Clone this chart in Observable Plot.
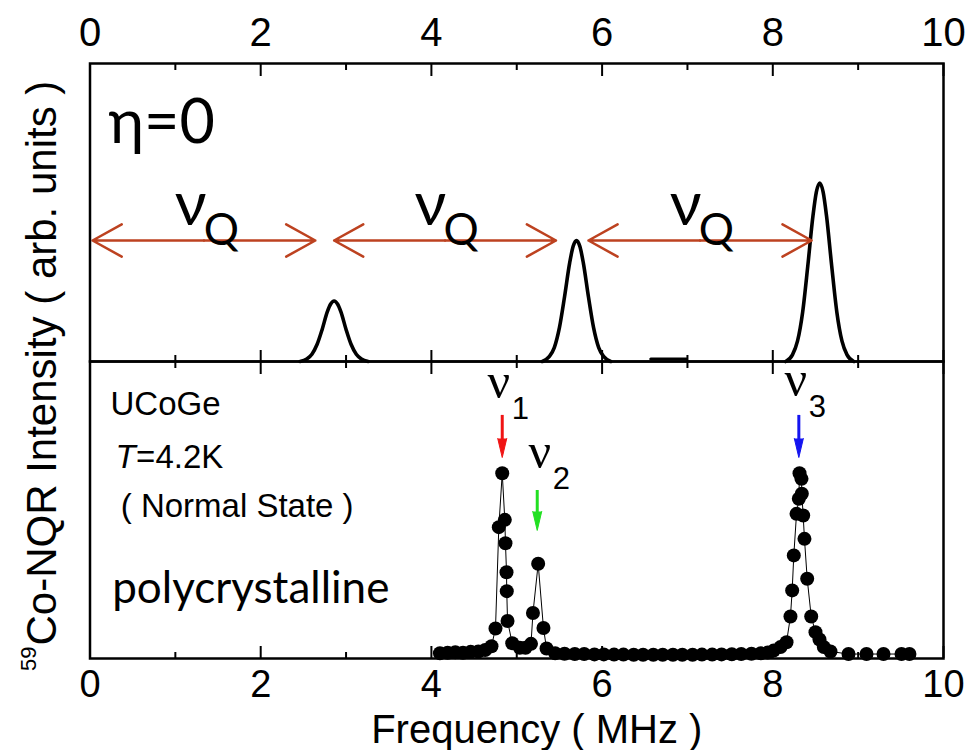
<!DOCTYPE html>
<html>
<head>
<meta charset="utf-8">
<script src="https://cdn.jsdelivr.net/npm/d3@7"></script>
<script src="https://cdn.jsdelivr.net/npm/@observablehq/plot@0.6"></script>
<style>
  body { margin: 0; background: #fff; }
  #wrap { position: relative; width: 967px; height: 750px; overflow: hidden; background: #fff; }
  #wrap svg { position: absolute; left: 0; top: 0; }
</style>
</head>
<body>
<div id="wrap"></div>
<script>
// ---------- axis ticks ----------
const majorTicks = [0, 2, 4, 6, 8, 10];
const minorTicks = [1, 3, 5, 7, 9];
const tickLabels = ["0", "2", "4", "6", "8", "10"];

// ---------- top panel: simulated spectrum (eta = 0) ----------
const peak1X = [2.46, 2.54, 2.60, 2.66, 2.72, 2.78, 2.82, 2.86, 2.90, 2.94, 3.00, 3.06, 3.12, 3.18, 3.26];
const peak1Y = [0, 0.04, 0.12, 0.28, 0.53, 0.82, 0.95, 1.00, 0.95, 0.82, 0.53, 0.28, 0.12, 0.04, 0];
const peak2X = [5.30, 5.38, 5.44, 5.50, 5.56, 5.62, 5.66, 5.70, 5.74, 5.78, 5.84, 5.90, 5.96, 6.02, 6.10];
const peak2Y = [0, 0.08, 0.23, 0.56, 1.07, 1.63, 1.90, 2.00, 1.90, 1.63, 1.07, 0.56, 0.23, 0.08, 0];
const peak3X = [8.15, 8.23, 8.29, 8.35, 8.41, 8.47, 8.51, 8.55, 8.59, 8.63, 8.69, 8.75, 8.81, 8.87, 8.95];
const peak3Y = [0, 0.11, 0.34, 0.82, 1.58, 2.40, 2.80, 2.95, 2.80, 2.40, 1.58, 0.82, 0.34, 0.11, 0];
const dashX = [6.57, 6.99];
const dashY = [0.04, 0.04];

// nu_Q double arrows (start, end) at height arrowLevel
const nuQStart = [0.03, 2.86, 5.84];
const nuQEnd = [2.64, 5.46, 8.455];
const arrowLevel = 2.0;
const nuQLabelX = [1.18, 3.99, 6.98];
const nuQLabelY = 2.25;
const etaText = "η=0";
const etaX = 0.217, etaY = 3.62;

// ---------- bottom panel: measured 59Co-NQR spectrum ----------
const freqMHz = [4.10,4.19,4.28,4.37,4.46,4.55,4.63,4.704,4.751,4.790,4.830,4.860,4.868,4.880,4.883,4.892,4.947,5.036,5.103,5.167,5.190,5.251,5.313,5.349,5.45,5.56,5.68,5.79,5.91,6.02,6.14,6.25,6.37,6.48,6.60,6.71,6.83,6.94,7.06,7.17,7.29,7.40,7.52,7.63,7.75,7.86,7.94,8.01,8.09,8.161,8.207,8.227,8.246,8.278,8.305,8.313,8.336,8.340,8.356,8.371,8.403,8.450,8.500,8.547,8.598,8.676,8.887,9.098,9.297,9.508,9.601];
const intensity = [0.012,0.015,0.018,0.015,0.020,0.022,0.030,0.051,0.148,0.704,1.000,0.744,0.616,0.457,0.353,0.189,0.067,0.042,0.042,0.064,0.233,0.503,0.151,0.038,0.012,0.010,0.008,0.008,0.006,0.006,0.005,0.005,0.004,0.004,0.004,0.004,0.004,0.004,0.004,0.005,0.005,0.006,0.007,0.008,0.010,0.012,0.016,0.027,0.046,0.073,0.214,0.357,0.549,0.777,0.860,1.000,0.969,0.887,0.768,0.640,0.421,0.214,0.128,0.088,0.046,0.022,0.008,0.008,0.008,0.008,0.008];

// line markers nu1, nu2, nu3
const nuSubs = ["1", "2", "3"];
const nuLabelX = [4.79, 5.27, 8.27];
const nuLabelY = [1.41, 1.026, 1.426];
const nuArrowX = [4.83, 5.24, 8.305];
const nuArrowTop = [1.317, 0.905, 1.317];
const nuArrowTip = [1.086, 0.686, 1.086];
const nuArrowColor = ["#f01414", "#22e022", "#1414f0"];

const infoLines = ["UCoGe", "( Normal State )"];
const infoX = [0.24, 0.36];
const infoY = [1.317, 0.757];
const tempItalic = "T", tempRest = "=4.2K";
const tempX = 0.30, tempY = 1.031;
const sampleText = "polycrystalline";
const sampleX = 0.26, sampleY = 0.29;

const xLabel = "Frequency ( MHz )";
const yLabelMain = "Co-NQR Intensity ( arb. units )";
const yLabelSup = "59";

// ---------- build tables ----------
const topTable = [
  ...peak1X.map((x, i) => ({peak: 1, x, y: peak1Y[i]})),
  ...peak2X.map((x, i) => ({peak: 2, x, y: peak2Y[i]})),
  ...peak3X.map((x, i) => ({peak: 3, x, y: peak3Y[i]}))
];
const dashTable = dashX.map((x, i) => ({x, y: dashY[i]}));
const halfArrows = [];
nuQStart.forEach((s, i) => {
  const m = (s + nuQEnd[i]) / 2;
  halfArrows.push({x1: m, x2: nuQEnd[i]});
  halfArrows.push({x1: m, x2: s});
});
const nuQTable = nuQLabelX.map(x => ({x, y: nuQLabelY}));
const spectrum = freqMHz.map((f, i) => ({f, v: intensity[i]}));
const nuTable = nuSubs.map((s, i) => ({s, x: nuLabelX[i], y: nuLabelY[i]}));
const nuArrows = nuArrowX.map((x, i) => ({x, top: nuArrowTop[i], tip: nuArrowTip[i], c: nuArrowColor[i]}));
const infoTable = infoLines.map((t, i) => ({t, x: infoX[i], y: infoY[i]}));

const SANS = "'Liberation Sans', Arial, sans-serif";
const CAL = "Lato, 'Open Sans', 'Noto Sans', sans-serif";
const brown = "#bd4220";

const W = 967, H = 750;
const topH = 298, botH = 297;

const topPlot = Plot.plot({
  width: W, height: H,
  marginTop: 63, marginBottom: H - 63 - topH, marginLeft: 89.5, marginRight: 24,
  x: {domain: [0, 10], label: null, axis: null},
  y: {domain: [0, 4.926], axis: null},
  style: {background: "transparent", fontFamily: SANS, color: "black"},
  marks: [
    Plot.ruleX(majorTicks, {x: d => d, insetBottom: topH - 13, strokeWidth: 2}),
    Plot.ruleX(minorTicks, {x: d => d, insetBottom: topH - 7, strokeWidth: 2}),
    Plot.ruleX(majorTicks, {x: d => d, insetTop: topH - 11, strokeWidth: 2}),
    Plot.ruleX(minorTicks, {x: d => d, insetTop: topH - 6, strokeWidth: 2}),
    Plot.line(topTable, {x: "x", y: "y", z: "peak", curve: "monotone-x", stroke: "black", strokeWidth: 3.6}),
    Plot.line(dashTable, {x: "x", y: "y", stroke: "black", strokeWidth: 3}),
    Plot.arrow(halfArrows, {x1: "x1", x2: "x2", y1: () => arrowLevel, y2: () => arrowLevel,
      stroke: brown, strokeWidth: 2.5, headLength: 20, headAngle: 58}),
    Plot.text([etaText], {x: () => etaX, y: () => etaY, text: d => d, textAnchor: "start", lineAnchor: "bottom",
      fontSize: 61, fontFamily: CAL, fill: "black"}),
    Plot.text(nuQTable, {x: "x", y: "y", text: () => "ν", textAnchor: "middle", lineAnchor: "bottom",
      fontSize: 62, fontFamily: CAL, fill: "black"}),
    Plot.text(nuQTable, {x: "x", y: "y", text: () => "Q", textAnchor: "start", lineAnchor: "bottom",
      dx: 13, dy: 20, fontSize: 44, fontFamily: CAL, fill: "black"}),
    Plot.frame({strokeWidth: 2.5, stroke: "black"}),
    Plot.text(majorTicks, {x: d => d, frameAnchor: "top", dy: -18, lineAnchor: "bottom",
      text: (d, i) => tickLabels[i], fontSize: 40, fontFamily: SANS, fill: "black"})
  ]
});

const botPlot = Plot.plot({
  width: W, height: H,
  marginTop: 63 + topH, marginBottom: H - 63 - topH - botH, marginLeft: 89.5, marginRight: 24,
  x: {domain: [0, 10], label: null, axis: null},
  y: {domain: [-0.01646, 1.6127], axis: null},
  style: {background: "transparent", fontFamily: SANS, color: "black"},
  marks: [
    Plot.ruleX(majorTicks, {x: d => d, insetBottom: botH - 13, strokeWidth: 2}),
    Plot.ruleX(minorTicks, {x: d => d, insetBottom: botH - 7, strokeWidth: 2}),
    Plot.ruleX(majorTicks, {x: d => d, insetTop: botH - 12, strokeWidth: 2}),
    Plot.ruleX(minorTicks, {x: d => d, insetTop: botH - 6, strokeWidth: 2}),
    Plot.line(spectrum, {x: "f", y: "v", stroke: "black", strokeWidth: 1}),
    Plot.dot(spectrum, {x: "f", y: "v", r: 7, fill: "black", stroke: "none"}),
    Plot.ruleX(nuArrows, {x: "x", y1: "top", y2: "tip", stroke: "c", strokeWidth: 3, insetBottom: 15}),
    Plot.vector(nuArrows, {x: "x", y: "tip", length: 19, rotate: 180, shape: "spike", anchor: "end",
      r: 4.5, fill: "c", stroke: "c", strokeWidth: 1}),
    Plot.text(nuTable, {x: "x", y: "y", text: () => "ν", textAnchor: "middle", lineAnchor: "bottom",
      fontSize: 50, fontFamily: "'Liberation Serif', 'Times New Roman', serif", fill: "black"}),
    Plot.text(nuTable, {x: "x", y: "y", text: "s", textAnchor: "start", lineAnchor: "bottom",
      dx: 13, dy: 21, fontSize: 31, fontFamily: SANS, fill: "black"}),
    Plot.text(infoTable, {x: "x", y: "y", text: "t", textAnchor: "start", lineAnchor: "bottom",
      fontSize: 33, fontFamily: SANS, fill: "black"}),
    Plot.text([tempItalic], {x: () => tempX, y: () => tempY, text: d => d, textAnchor: "start", lineAnchor: "bottom",
      fontSize: 33, fontStyle: "italic", fontFamily: SANS, fill: "black"}),
    Plot.text([tempRest], {x: () => tempX, y: () => tempY, text: d => d, textAnchor: "start", lineAnchor: "bottom",
      dx: 20.5, fontSize: 33, fontFamily: SANS, fill: "black"}),
    Plot.text([sampleText], {x: () => sampleX, y: () => sampleY, text: d => d, textAnchor: "start", lineAnchor: "bottom",
      fontSize: 44, fontFamily: CAL, fill: "black"}),
    Plot.frame({strokeWidth: 2.5, stroke: "black"}),
    Plot.text(majorTicks, {x: d => d, frameAnchor: "bottom", dy: 12, lineAnchor: "top",
      text: (d, i) => tickLabels[i], fontSize: 38, fontFamily: SANS, fill: "black"}),
    Plot.text([xLabel], {frameAnchor: "bottom", dx: 20, dy: 84, lineAnchor: "bottom", text: d => d,
      fontSize: 40, fontFamily: SANS, fill: "black"}),
    Plot.text([yLabelMain], {frameAnchor: "left", dx: -34.5, dy: 135.5, rotate: -90, textAnchor: "start",
      lineAnchor: "bottom", text: d => d, fontSize: 42, fontFamily: SANS, fill: "black"}),
    Plot.text([yLabelSup], {frameAnchor: "left", dx: -54.5, dy: 136.5, rotate: -90, textAnchor: "end",
      lineAnchor: "bottom", text: d => d, fontSize: 22, fontFamily: SANS, fill: "black"})
  ]
});

const wrap = document.getElementById("wrap");
wrap.appendChild(topPlot);
wrap.appendChild(botPlot);
</script>
</body>
</html>
